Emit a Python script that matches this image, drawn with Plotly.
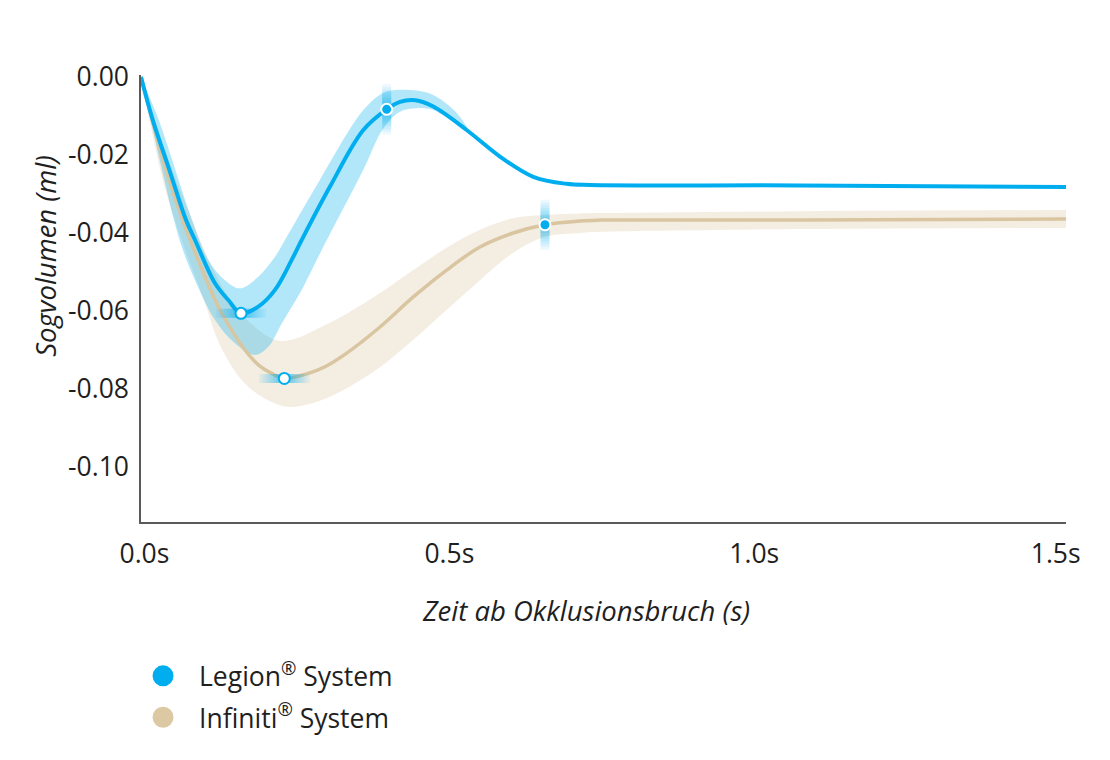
import plotly.graph_objects as go

# ---------------- data ----------------
legion_x = [0, 0.019, 0.0459, 0.073, 0.0876, 0.120, 0.1416, 0.1622, 0.1902, 0.2173, 0.2444, 0.2606,
            0.3065, 0.3605, 0.3984, 0.420, 0.445, 0.474, 0.528, 0.582, 0.636, 0.690, 0.728, 1.069, 1.5]
legion_y = [0, -0.0110, -0.0238, -0.0367, -0.0418, -0.0529, -0.0572, -0.0606, -0.0589, -0.0546, -0.0469, -0.0418,
            -0.0281, -0.0136, -0.0083, -0.0064, -0.0060, -0.0076, -0.0136, -0.0204, -0.0256, -0.0274, -0.0277,
            -0.0278, -0.0282]

legion_upper_x = [0, 0.0287, 0.0556, 0.0827, 0.1091, 0.1362, 0.1605, 0.1902, 0.2173, 0.2335, 0.290,
                  0.3605, 0.3924, 0.420, 0.447, 0.474, 0.501, 0.517, 0.535]
legion_upper_y = [0, -0.0110, -0.0238, -0.0367, -0.0469, -0.0521, -0.0542, -0.0512, -0.0461, -0.0418, -0.0264,
                  -0.0085, -0.0041, -0.0033, -0.0035, -0.0046, -0.0076, -0.0102, -0.0145]
legion_lower_x = [0, 0.034, 0.0535, 0.066, 0.0876, 0.120, 0.1524, 0.1849, 0.2064, 0.2282, 0.2606, 0.293,
                  0.3605, 0.3929, 0.420, 0.447, 0.474, 0.501, 0.5254, 0.535]
legion_lower_y = [0, -0.0238, -0.0367, -0.0435, -0.0521, -0.0623, -0.0683, -0.0713, -0.0692, -0.0632, -0.0546,
                  -0.0444, -0.0238, -0.0132, -0.0089, -0.0080, -0.0085, -0.0110, -0.0136, -0.0145]

infiniti_x = [0, 0.0405, 0.0676, 0.1038, 0.1253, 0.1471, 0.1686, 0.1902, 0.2119, 0.2324, 0.2713, 0.2984,
              0.3336, 0.3876, 0.4416, 0.4957, 0.5497, 0.6037, 0.6551, 0.7119, 0.7443, 1.0686, 1.5]
infiniti_y = [0, -0.0238, -0.0367, -0.0512, -0.0589, -0.0649, -0.0700, -0.0738, -0.0760, -0.0773, -0.0760, -0.0743,
              -0.0708, -0.0641, -0.0564, -0.0495, -0.0436, -0.0400, -0.0379, -0.0369, -0.0367, -0.0367, -0.0364]

infiniti_upper_x = [0, 0.045, 0.075, 0.110, 0.140, 0.170, 0.2173, 0.2444, 0.2984, 0.3336, 0.3876, 0.4416,
                    0.4957, 0.5497, 0.6037, 0.6551, 0.7119, 0.7443, 1.0686, 1.5]
infiniti_upper_y = [0, -0.0215, -0.0335, -0.0470, -0.0560, -0.0620, -0.0674, -0.0674, -0.0636, -0.0607, -0.0554,
                    -0.0495, -0.0438, -0.0392, -0.0362, -0.0354, -0.0350, -0.0349, -0.0344, -0.0341]
infiniti_lower_x = [0, 0.035, 0.062, 0.1038, 0.128, 0.1633, 0.1957, 0.2335, 0.2606, 0.2984, 0.3336, 0.3876,
                    0.4416, 0.4957, 0.5497, 0.6037, 0.6551, 0.7119, 0.7443, 1.0686, 1.5]
infiniti_lower_y = [0, -0.0262, -0.0400, -0.0580, -0.0687, -0.0777, -0.0820, -0.0845, -0.0843, -0.0825, -0.0798,
                    -0.0744, -0.0674, -0.0597, -0.0521, -0.0451, -0.0410, -0.0400, -0.0397, -0.0390, -0.0387]

legion_marker_x = [0.1622, 0.3984]
legion_marker_y = [-0.0606, -0.0083]
infiniti_marker_x = [0.2324, 0.6551]
infiniti_marker_y = [-0.0773, -0.0379]
marker_kind = ["min", "max"]   # min -> open marker w/ horizontal glow, max -> filled marker w/ vertical glow

NB = "\u00a0"
x_tick_vals = [0, 0.5, 1.0, 1.5]
x_tick_text = [NB + "0.0s", "0.5s", "1.0s" + NB, "1.5s" + NB * 3]
y_tick_vals = [0, -0.02, -0.04, -0.06, -0.08, -0.10]
y_tick_text = ["0.00", "-0.02", "-0.04", "-0.06", "-0.08", "-0.10"]

series_names = ["Legion<sup>®</sup> System", "Infiniti<sup>®</sup> System"]

# ---------------- style ----------------
BLUE = "#00AEEF"
BLUE_BAND = "rgba(0,174,239,0.30)"
BEIGE = "#D9C5A0"
BEIGE_BAND = "rgba(217,196,160,0.30)"
BEIGE_LEGEND = "#DCC8A2"
FONT = "Open Sans"
TXT = "#1f1f1f"
FS = 26.5
FS_TITLE = 27.5

fig = go.Figure()

def band(ux, uy, lx, ly, color):
    fig.add_trace(go.Scatter(x=ux, y=uy, mode="lines", line=dict(width=0, shape="spline", smoothing=1),
                             hoverinfo="skip", showlegend=False))
    fig.add_trace(go.Scatter(x=lx, y=ly, mode="lines", line=dict(width=0, shape="spline", smoothing=1),
                             fill="tonexty", fillcolor=color, hoverinfo="skip", showlegend=False))

band(infiniti_upper_x, infiniti_upper_y, infiniti_lower_x, infiniti_lower_y, BEIGE_BAND)
band(legion_upper_x, legion_upper_y, legion_lower_x, legion_lower_y, BLUE_BAND)

fig.add_trace(go.Scatter(x=infiniti_x, y=infiniti_y, mode="lines",
                         line=dict(color=BEIGE, width=3.5, shape="spline", smoothing=1),
                         showlegend=False, name="Infiniti"))
fig.add_trace(go.Scatter(x=legion_x, y=legion_y, mode="lines",
                         line=dict(color=BLUE, width=4, shape="spline", smoothing=1),
                         showlegend=False, name="Legion"))

# soft glow bars behind the markers (stacked translucent line symbols)
glow_layers = [(36, 0.07), (32, 0.07), (28, 0.08), (24, 0.08), (20, 0.09), (16, 0.10), (12, 0.12)]
for mx, my in [(legion_marker_x, legion_marker_y), (infiniti_marker_x, infiniti_marker_y)]:
    syms = ["line-ew" if k == "min" else "line-ns" for k in marker_kind]
    for length, alpha in glow_layers:
        fig.add_trace(go.Scatter(x=mx, y=my, mode="markers", hoverinfo="skip", showlegend=False,
                                 marker=dict(symbol=syms, size=length, color=f"rgba(0,174,239,{alpha})",
                                             line=dict(color=f"rgba(0,174,239,{alpha})", width=9))))

# markers
for mx, my in [(legion_marker_x, legion_marker_y), (infiniti_marker_x, infiniti_marker_y)]:
    fills = ["white" if k == "min" else BLUE for k in marker_kind]
    outlines = [BLUE if k == "min" else "white" for k in marker_kind]
    fig.add_trace(go.Scatter(x=mx, y=my, mode="markers",
                             marker=dict(size=11, color=fills, line=dict(color=outlines, width=2)),
                             showlegend=False, hoverinfo="x+y"))

# legend entries
fig.add_trace(go.Scatter(x=[None], y=[None], mode="markers", name=series_names[0], legendgroup="a",
                         marker=dict(size=16, color=BLUE, line=dict(color=BLUE, width=5))))
fig.add_trace(go.Scatter(x=[None], y=[None], mode="markers", name=series_names[1], legendgroup="b",
                         marker=dict(size=16, color=BEIGE_LEGEND, line=dict(color=BEIGE_LEGEND, width=5))))

fig.update_layout(
    width=1110, height=760,
    margin=dict(l=133, r=52, t=67, b=246),
    paper_bgcolor="white", plot_bgcolor="white",
    font=dict(family=FONT, color=TXT, size=FS),
    showlegend=True,
    legend=dict(x=-0.0151, xanchor="left", y=-0.291, yanchor="top", orientation="v",
                font=dict(family=FONT, size=FS, color=TXT), itemwidth=62,
                tracegroupgap=4, bgcolor="rgba(0,0,0,0)"),
    xaxis=dict(range=[0, 1.5], tickvals=x_tick_vals, ticktext=x_tick_text, showgrid=False,
               zeroline=False, showline=True, linecolor="#5a5a5a", linewidth=1.5,
               ticks="", tickfont=dict(size=FS, color=TXT), ticklabelstandoff=7),
    yaxis=dict(range=[-0.1141, 0.0005], tickvals=y_tick_vals, ticktext=y_tick_text, showgrid=False,
               zeroline=False, showline=True, linecolor="#5a5a5a", linewidth=1.5,
               ticks="", tickfont=dict(size=FS, color=TXT), ticklabelstandoff=5),
    annotations=[
        dict(text="Zeit ab Okklusionsbruch (s)", xref="paper", yref="paper", x=0.481, y=-0.199,
             xanchor="center", yanchor="middle", showarrow=False,
             font=dict(family=FONT, size=FS_TITLE, color=TXT, style="italic")),
        dict(text="Sogvolumen (ml)", xref="paper", yref="paper", x=-0.104, y=0.595,
             xanchor="center", yanchor="middle", showarrow=False, textangle=-90,
             font=dict(family=FONT, size=FS_TITLE, color=TXT, style="italic")),
    ],
)

fig.write_html("out.html")
